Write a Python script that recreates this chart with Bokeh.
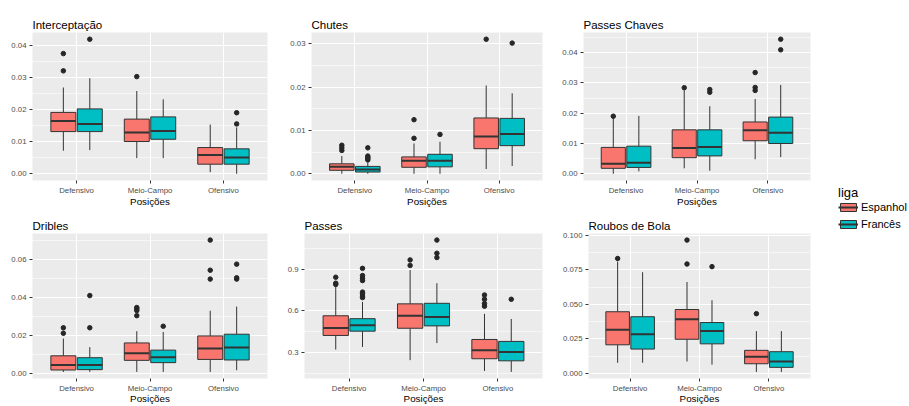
import numpy as np
from bokeh.plotting import figure
from bokeh.models import (ColumnDataSource, FactorRange, Range1d, FixedTicker,
                          NumeralTickFormatter, Legend, LegendItem)
from bokeh.transform import dodge
from bokeh.layouts import row, column
from bokeh.embed import file_html
from bokeh.resources import INLINE

positions = ["Defensivo", "Meio-Campo", "Ofensivo"]
leagues = ["Espanhol", "Francês"]
league_colors = ["#F8766D", "#00BFC4"]

# box stats per position: (lower whisker, Q1, median, Q3, upper whisker)
interc_esp = [(0.0072, 0.0132, 0.0165, 0.0192, 0.0270), (0.0049, 0.0101, 0.0129, 0.0171, 0.0259), (0.0005, 0.0030, 0.0059, 0.0082, 0.0154)]
interc_fra = [(0.0074, 0.0132, 0.0156, 0.0203, 0.0299), (0.0049, 0.0108, 0.0134, 0.0178, 0.0233), (0.0000, 0.0030, 0.0051, 0.0078, 0.0145)]
interc_esp_out = [[0.0322, 0.0376], [0.0304], []]
interc_fra_out = [[0.0421], [], [0.0156, 0.0191]]
interc_ticks = [0.00, 0.01, 0.02, 0.03, 0.04]

chutes_esp = [(0.0, 0.0008, 0.0016, 0.0023, 0.0041), (0.0, 0.0015, 0.0030, 0.0039, 0.0070), (0.0011, 0.0058, 0.0086, 0.0129, 0.0204)]
chutes_fra = [(0.0, 0.0004, 0.0010, 0.0017, 0.0026), (0.0, 0.0016, 0.0030, 0.0045, 0.0074), (0.0018, 0.0065, 0.0092, 0.0128, 0.0186)]
chutes_esp_out = [[0.0054, 0.0060, 0.0066], [0.0082, 0.0125], [0.0311]]
chutes_fra_out = [[0.0032, 0.0035, 0.0038, 0.0041, 0.0060], [0.0091], [0.0302]]
chutes_ticks = [0.00, 0.01, 0.02, 0.03]

pch_esp = [(0.0, 0.0018, 0.0033, 0.0087, 0.0185), (0.0018, 0.0053, 0.0085, 0.0145, 0.0276), (0.0048, 0.0109, 0.0144, 0.0171, 0.0247)]
pch_fra = [(0.0008, 0.0021, 0.0036, 0.0091, 0.0191), (0.0010, 0.0059, 0.0088, 0.0145, 0.0223), (0.0055, 0.0100, 0.0135, 0.0187, 0.0293)]
pch_esp_out = [[0.0190], [0.0284], [0.0275, 0.0285, 0.0334]]
pch_fra_out = [[], [0.0269, 0.0278], [0.0409, 0.0444]]
pch_ticks = [0.00, 0.01, 0.02, 0.03, 0.04]

dri_esp = [(0.0007, 0.0017, 0.0044, 0.0092, 0.0183), (0.0007, 0.0068, 0.0106, 0.0160, 0.0222), (0.0007, 0.0073, 0.0131, 0.0197, 0.0330)]
dri_fra = [(0.0007, 0.0019, 0.0044, 0.0082, 0.0138), (0.0007, 0.0056, 0.0085, 0.0122, 0.0218), (0.0016, 0.0070, 0.0136, 0.0206, 0.0352)]
dri_esp_out = [[0.0211, 0.0240], [0.0304, 0.0331, 0.0340, 0.0347], [0.0497, 0.0544, 0.0703]]
dri_fra_out = [[0.0240, 0.0410], [0.0248], [0.0497, 0.0504, 0.0576]]
dri_ticks = [0.00, 0.02, 0.04, 0.06]

pas_esp = [(0.319, 0.421, 0.475, 0.563, 0.774), (0.243, 0.473, 0.563, 0.649, 0.893), (0.165, 0.253, 0.314, 0.392, 0.577)]
pas_fra = [(0.338, 0.452, 0.494, 0.542, 0.663), (0.366, 0.490, 0.554, 0.653, 0.798), (0.158, 0.238, 0.302, 0.378, 0.540)]
pas_esp_out = [[0.789, 0.798, 0.841], [0.926, 0.966], [0.632, 0.651, 0.682, 0.713]]
pas_fra_out = [[0.694, 0.705, 0.722, 0.734, 0.817, 0.834, 0.853, 0.905], [0.983, 1.014, 1.109], [0.682]]
pas_ticks = [0.3, 0.6, 0.9]

rou_esp = [(0.0078, 0.0208, 0.0317, 0.0447, 0.0809), (0.0087, 0.0248, 0.0392, 0.0463, 0.0662), (0.0012, 0.0071, 0.0121, 0.0168, 0.0307)]
rou_fra = [(0.0078, 0.0177, 0.0284, 0.0411, 0.0733), (0.0064, 0.0215, 0.0307, 0.0369, 0.0530), (0.0012, 0.0045, 0.0087, 0.0158, 0.0307)]
rou_esp_out = [[0.0832], [0.0792, 0.0965], [0.0433]]
rou_fra_out = [[], [0.0773], []]
rou_ticks = [0.000, 0.025, 0.050, 0.075, 0.100]

FONT = "Liberation Sans"
BOX_W = 0.34
OFFS = [-0.18, 0.18]


def make_panel(title, stats, outs, ticks, fmt, width, height, borders, xl_standoff, lab_standoff):
    allv = [v for s in stats for t in s for v in t] + [v for o in outs for l in o for v in l]
    lo, hi = min(allv), max(allv)
    pad = 0.05 * (hi - lo)
    p = figure(width=width, height=height,
               x_range=FactorRange(*positions, range_padding=0.1, range_padding_units="absolute"),
               y_range=Range1d(lo - pad, hi + pad),
               output_backend="svg", toolbar_location=None,
               min_border_left=borders[0], min_border_right=borders[1],
               min_border_top=borders[2], min_border_bottom=borders[3])
    p.background_fill_color = "#EBEBEB"
    p.border_fill_color = "white"
    p.outline_line_color = None

    for k in range(2):
        st = stats[k]
        src = ColumnDataSource(dict(pos=positions,
                                    low=[s[0] for s in st], q1=[s[1] for s in st],
                                    med=[s[2] for s in st], q3=[s[3] for s in st],
                                    high=[s[4] for s in st]))
        off = OFFS[k]
        xc = dodge("pos", off, range=p.x_range)
        p.segment(x0=xc, y0="low", x1=xc, y1="q1", source=src, line_color="#333333", line_width=1)
        p.segment(x0=xc, y0="q3", x1=xc, y1="high", source=src, line_color="#333333", line_width=1)
        p.vbar(x=xc, width=BOX_W, bottom="q1", top="q3", source=src,
               fill_color=league_colors[k], line_color="#333333", line_width=1)
        p.segment(x0=dodge("pos", off - BOX_W / 2, range=p.x_range), y0="med",
                  x1=dodge("pos", off + BOX_W / 2, range=p.x_range), y1="med",
                  source=src, line_color="#333333", line_width=2)
        opos, oval = [], []
        for c, lst in zip(positions, outs[k]):
            for v in lst:
                opos.append(c)
                oval.append(v)
        osrc = ColumnDataSource(dict(pos=opos, val=oval))
        p.scatter(x=xc, y="val", source=osrc, size=4.5, color="#262626")

    step = ticks[1] - ticks[0]
    minor = [t - step / 2 for t in ticks] + [ticks[-1] + step / 2]
    p.yaxis.ticker = FixedTicker(ticks=ticks, minor_ticks=minor)
    p.yaxis.formatter = NumeralTickFormatter(format=fmt)

    for ax in (p.xaxis[0], p.yaxis[0]):
        ax.axis_line_color = None
        ax.major_tick_line_color = "#333333"
        ax.major_tick_in = 0
        ax.major_tick_out = 3
        ax.minor_tick_line_color = None
        ax.major_label_text_font = FONT
        ax.major_label_text_font_size = "7.8px"
        ax.major_label_text_color = "#4D4D4D"
        ax.major_label_standoff = 2
    p.xaxis.major_label_standoff = lab_standoff
    p.xaxis.axis_label = "Posições"
    p.xaxis.axis_label_text_font = FONT
    p.xaxis.axis_label_text_font_size = "9.8px"
    p.xaxis.axis_label_text_font_style = "normal"
    p.xaxis.axis_label_text_color = "black"
    p.xaxis.axis_label_standoff = xl_standoff

    p.xgrid.grid_line_color = "white"
    p.xgrid.grid_line_width = 1.1
    p.ygrid.grid_line_color = "white"
    p.ygrid.grid_line_width = 1.1
    p.ygrid.minor_grid_line_color = "white"
    p.ygrid.minor_grid_line_width = 0.55

    p.title.text = title
    p.title.text_font = FONT
    p.title.text_font_size = "11.5px"
    p.title.text_font_style = "normal"
    p.title.text_color = "black"
    p.title.align = "left"
    p.title.standoff = 3
    return p


f1 = make_panel("Interceptação", [interc_esp, interc_fra], [interc_esp_out, interc_fra_out], interc_ticks, "0.00", 287, 209, (32, 20, 32, 29), -2, 2)
f2 = make_panel("Chutes", [chutes_esp, chutes_fra], [chutes_esp_out, chutes_fra_out], chutes_ticks, "0.00", 272, 209, (23, 17, 32, 29), -2, 2)
f3 = make_panel("Passes Chaves", [pch_esp, pch_fra], [pch_esp_out, pch_fra_out], pch_ticks, "0.00", 261, 209, (24, 10, 32, 29), -2, 2)
f4 = make_panel("Dribles", [dri_esp, dri_fra], [dri_esp_out, dri_fra_out], dri_ticks, "0.00", 284, 197, (32, 17, 24, 28), -3, 2)
f5 = make_panel("Passes", [pas_esp, pas_fra], [pas_esp_out, pas_fra_out], pas_ticks, "0.0", 275, 197, (19, 17, 24, 28), -3, 2)
f6 = make_panel("Roubos de Bola", [rou_esp, rou_fra], [rou_esp_out, rou_fra_out], rou_ticks, "0.000", 261, 197, (28, 10, 24, 28), -3, 2)

# legend panel
lf = figure(width=89, height=406, x_range=Range1d(0, 1), y_range=Range1d(0, 1),
            x_axis_type=None, y_axis_type=None,
            output_backend="svg", toolbar_location=None, min_border=0)
lf.outline_line_color = None
lf.background_fill_color = "white"
lf.border_fill_color = "white"
lf.grid.visible = False
items = []
for name, color in zip(leagues, league_colors):
    s = ColumnDataSource(dict(x=[-5.0], top=[-5.0], bottom=[-6.0]))
    b = lf.vbar(x="x", top="top", bottom="bottom", width=0.1, source=s,
                fill_color=color, line_color="#333333", line_width=1)
    m = lf.line(x=[-5.0, -4.0], y=[-5.0, -5.0], line_color="#333333", line_width=2)
    items.append(LegendItem(label=name, renderers=[b, m]))
legend = Legend(items=items, title="liga", location=(18, 176),
                title_text_font=FONT, title_text_font_size="13px", title_text_font_style="normal",
                title_text_color="black", title_standoff=1,
                label_text_font=FONT, label_text_font_size="11px", label_text_color="black",
                label_standoff=3, glyph_width=20, glyph_height=10, label_height=10,
                spacing=5, padding=0, margin=0, border_line_color=None,
                background_fill_alpha=0)
lf.add_layout(legend)

layout = row(column(row(f1, f2, f3), row(f4, f5, f6)), lf)
open("out.html", "w").write(file_html(layout, INLINE))
